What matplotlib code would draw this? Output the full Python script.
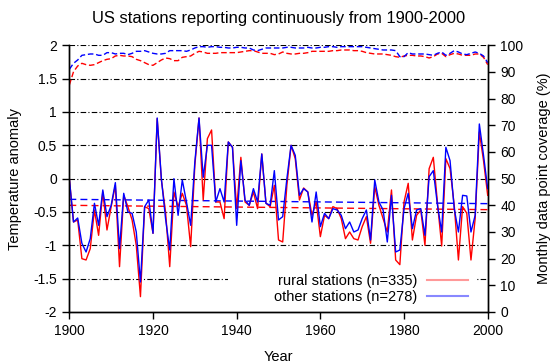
import numpy as np
import matplotlib
matplotlib.use('Agg')
import matplotlib.pyplot as plt
from matplotlib.lines import Line2D
from matplotlib.patches import Rectangle

plt.rcParams['font.family'] = ['Liberation Sans', 'DejaVu Sans']

years = np.arange(1900, 2001)

# temperature anomaly
rural = [0.0, -0.65, -0.62, -1.2, -1.22, -1.05, -0.47, -0.85, -0.2, -0.77,
         -0.42, -0.1, -1.32, -0.25, -0.42, -0.62, -1.0, -1.77, -0.42, -0.45,
         -0.82, 0.9, -0.02, -0.5, -1.32, -0.2, -0.42, -0.22, -0.4, -1.02,
         0.2, 0.91, -0.32, 0.6, 0.73, -0.35, -0.35, -0.6, 0.55, 0.47,
         -0.45, 0.32, -0.35, -0.4, -0.2, -0.45, 0.37, -0.37, -0.42, -0.1,
         -0.92, -0.95, -0.1, 0.5, 0.3, -0.32, -0.14, -0.2, -0.55, -0.35,
         -0.87, -0.55, -0.6, -0.42, -0.45, -0.6, -0.9, -0.8, -0.9, -0.92,
         -0.72, -0.57, -0.97, -0.12, -0.4, -0.6, -0.8, -0.17, -1.22, -1.29,
         -0.35, -0.07, -0.92, -0.55, -0.47, -1.0, 0.15, 0.32, -0.37, -1.01,
         0.3, 0.15, -0.4, -1.22, -0.42, -0.52, -1.22, -0.6, 0.7, 0.27,
         -0.25]
other = [0.0, -0.65, -0.59, -0.97, -1.1, -0.9, -0.37, -0.7, -0.17, -0.57,
         -0.4, -0.06, -1.05, -0.22, -0.5, -0.52, -0.8, -1.55, -0.42, -0.32,
         -0.82, 0.91, 0.0, -0.6, -1.07, 0.0, -0.55, -0.02, -0.35, -0.7,
         0.25, 0.91, 0.02, 0.5, 0.5, -0.35, -0.15, -0.35, 0.55, 0.47,
         -0.7, 0.27, -0.32, -0.4, -0.15, -0.35, 0.37, -0.37, -0.4, 0.12,
         -0.62, -0.57, 0.0, 0.5, 0.35, -0.25, -0.15, -0.2, -0.65, -0.2,
         -0.72, -0.52, -0.6, -0.45, -0.47, -0.55, -0.75, -0.65, -0.8, -0.77,
         -0.6, -0.47, -0.92, -0.02, -0.35, -0.47, -0.95, -0.25, -1.1, -1.07,
         -0.45, -0.22, -0.75, -0.47, -0.45, -0.85, 0.03, 0.12, -0.4, -0.8,
         0.47, 0.27, -0.45, -0.8, -0.25, -0.26, -0.8, -0.55, 0.82, 0.35,
         -0.15]

# linear trends (end points)
trend_years = [1900, 2000]
rural_trend = [-0.40, -0.465]
other_trend = [-0.31, -0.375]

# monthly data point coverage (%)
rural_cov = [85.1, 90.1, 92.25, 93.25, 92.75, 92.5, 92.75, 93.5, 94.25, 94.75,
             95, 96, 96.25, 96, 96, 95.75, 94.75, 94.25, 93.5, 92.75,
             92.5, 93.5, 94.5, 95.25, 95, 94.25, 94.25, 95.5, 95.75, 96,
             97, 97.75, 97.5, 97, 97, 97, 97.25, 97.25, 97.25, 97.25,
             97.25, 97.5, 97.75, 98, 98, 97.5, 97, 97, 97, 96.5,
             96.75, 97.5, 97, 96.75, 96.75, 97, 97, 97.25, 97.75, 97.75,
             97.75, 97.75, 97.75, 98, 98, 98.25, 98.25, 98.25, 98, 98,
             97.75, 97.25, 97, 96.75, 96.75, 96.75, 96.5, 96.25, 95.75, 95.5,
             96, 96.25, 96.25, 96, 96, 95.75, 95.25, 95.75, 96.75, 97,
             95.75, 96.5, 97, 96.75, 96.25, 96.25, 96.25, 96.75, 96.75, 95.5,
             92.75]
other_cov = [91, 93.25, 94.5, 96.25, 96.5, 96.75, 96.75, 96.25, 96.25, 97.25,
             97.25, 96.75, 97, 97, 96.5, 97, 97.75, 97.75, 98, 97.5,
             97, 96.75, 96.75, 97, 98, 98, 98, 98, 97.75, 98.25,
             99, 99.5, 99.5, 99.25, 99.5, 99.5, 99.25, 99.25, 99, 99,
             99.25, 99.25, 99, 99, 98.25, 98, 98.5, 99, 99, 99,
             99, 99, 99.25, 99.25, 99, 99, 99, 99.25, 99, 99,
             99.25, 99.25, 99.5, 99.5, 99.25, 99.5, 99.5, 99.5, 99.5, 99.5,
             99.5, 99.25, 99, 98.75, 98.5, 98.25, 98.25, 98.25, 98, 95.75,
             95.75, 97.25, 96.75, 96.75, 96.75, 96.75, 96.5, 96.25, 97, 97.5,
             96.25, 97, 98, 97.5, 96.75, 96.5, 97, 97.5, 97, 96,
             93.5]

labels = ['rural stations (n=335)', 'other stations (n=278)']

fig = plt.figure(figsize=(5.6, 3.64), dpi=100)
ax = fig.add_axes([0.1238, 0.1429, 0.7471, 0.7326])
ax2 = ax.twinx()

# grid: dash-dot lines at every y tick except bottom
gridstyle = dict(color='black', lw=0.8, dashes=(5, 2, 1, 2), zorder=0)
for yv in np.arange(-1.5, 2.01, 0.5):
    ax.axhline(yv, **gridstyle)

# white key box (hides part of the grid like the original)
ax.add_patch(Rectangle((0.379, 0.004), 0.595, 0.15, transform=ax.transAxes,
                       facecolor='white', edgecolor='none', zorder=1))

ax.plot(years, rural, color='red', lw=1, zorder=3)
ax.plot(years, other, color='blue', lw=1, zorder=4)
ax.plot(trend_years, rural_trend, color='red', lw=1, dashes=(5, 3), zorder=2)
ax.plot(trend_years, other_trend, color='blue', lw=1, dashes=(5, 3), zorder=2)

ax2.plot(years, rural_cov, color='red', lw=1, dashes=(4, 2))
ax2.plot(years, other_cov, color='blue', lw=1, dashes=(4, 2))

ax.set_xlim(1900, 2000)
ax.set_ylim(-2, 2)
ax2.set_ylim(0, 100)
ax.set_xticks(np.arange(1900, 2001, 20))
ax.set_yticks(np.arange(-2, 2.01, 0.5))
ax.set_yticklabels(['-2', '-1.5', '-1', '-0.5', '0', '0.5', '1', '1.5', '2'])
ax2.set_yticks(np.arange(0, 101, 10))

for a in (ax, ax2):
    a.spines['top'].set_visible(False)
    a.tick_params(labelsize=10, length=5, width=1, direction='out', pad=4)
    for s in a.spines.values():
        s.set_linewidth(1)

ax.set_xlabel('Year', fontsize=10.5, labelpad=8)
ax.set_ylabel('Temperature anomaly', fontsize=10.5, labelpad=8)
ax2.set_ylabel('Monthly data point coverage (%)', fontsize=10.5, labelpad=10)
ax.set_title('US stations reporting continuously from 1900-2000', fontsize=11.9, pad=16)

handles = [Line2D([], [], color='#ff9999', lw=1.5),
           Line2D([], [], color='#8888ff', lw=1.5)]
leg = ax2.legend(handles, labels, loc='lower right', bbox_to_anchor=(0.984, -0.02),
                 markerfirst=False, fontsize=10.5, frameon=False,
                 handlelength=2.8, handletextpad=0.65,
                 labelspacing=0.15, borderpad=0.4)
leg.set_zorder(10)

fig.savefig('out.png', dpi=100)
